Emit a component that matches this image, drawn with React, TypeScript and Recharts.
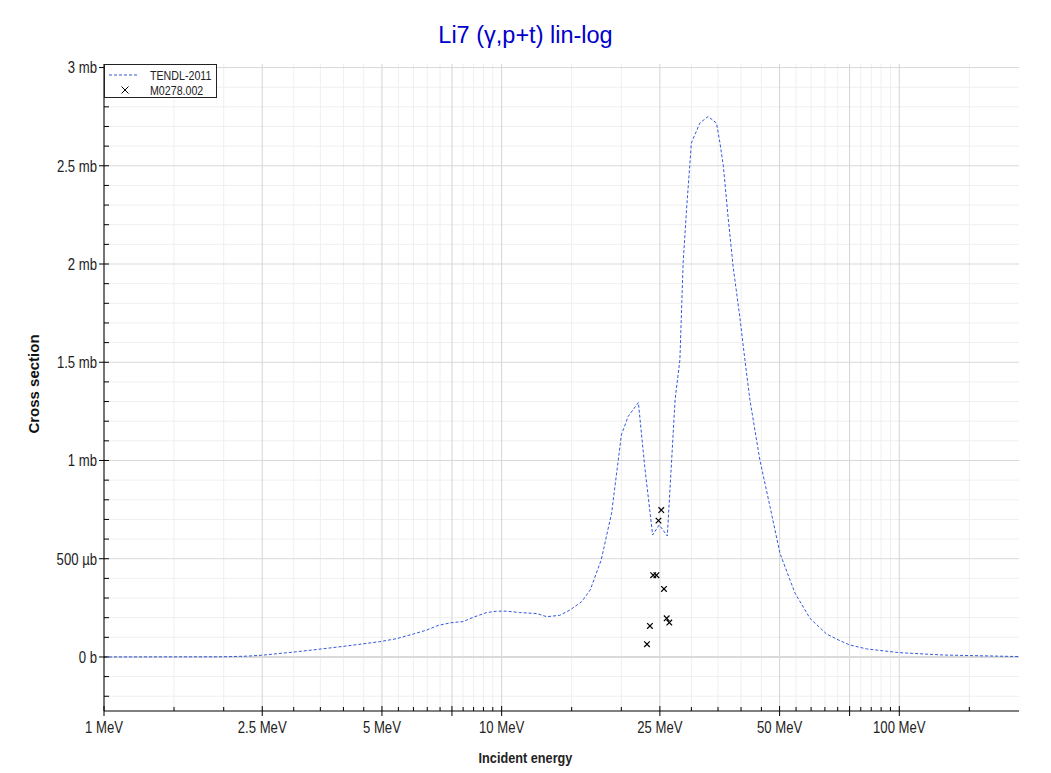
import { ComposedChart, Line, Scatter, XAxis, YAxis, ReferenceLine } from "recharts";

// TENDL-2011 evaluation, energy in MeV, cross section in mb
const tendlEnergy = [
  1, 2, 2.28, 2.5, 3, 3.36, 4.08, 4.94, 5.44, 6, 6.48, 6.93, 7.5, 8, 8.48, 9.17, 9.71,
  10.3, 11.1, 12.25, 12.98, 14, 14.86, 15.9, 16.7, 17.8, 18.9, 19.65, 20, 20.8, 22.07,
  22.9, 23.97, 24.9, 26.1, 27.3, 28.07, 28.6, 29.2, 29.75, 30, 31.5, 33.05, 34.7, 35.4,
  36.1, 37.1, 38.2, 39.7, 40.9, 42.1, 44.6, 47.3, 50.1, 53.1, 54.7, 59.6, 65.6, 70.9,
  75.1, 82.7, 100, 128.9, 200,
];
const tendlXs = [
  0, 0.001, 0.004, 0.009, 0.025, 0.036, 0.056, 0.078, 0.093, 0.117, 0.137, 0.161, 0.175,
  0.18, 0.202, 0.226, 0.233, 0.233, 0.226, 0.221, 0.205, 0.212, 0.239, 0.282, 0.341,
  0.494, 0.732, 1.003, 1.13, 1.224, 1.295, 0.969, 0.621, 0.672, 0.616, 1.309, 1.512,
  2.005, 2.29, 2.514, 2.616, 2.717, 2.751, 2.717, 2.616, 2.5, 2.24, 1.987, 1.733, 1.512,
  1.309, 1.003, 0.765, 0.528, 0.392, 0.324, 0.197, 0.117, 0.083, 0.061, 0.041, 0.022,
  0.01, 0.002,
];

// EXFOR M0278.002
const expEnergy = [23.2, 23.6, 24.05, 24.5, 24.8, 25.2, 25.6, 26.0, 26.4];
const expXs = [0.065, 0.158, 0.416, 0.416, 0.694, 0.748, 0.346, 0.197, 0.175];

const xLabelTicks = [1, 2.5, 5, 10, 25, 50, 100];
const xLabels = ["1 MeV", "2.5 MeV", "5 MeV", "10 MeV", "25 MeV", "50 MeV", "100 MeV"];
const xMajorTicks = [1, 2.5, 5, 7.5, 10, 25, 50, 75, 100];
const xMinorTicks = [
  1.5, 2, 3, 3.5, 4, 4.5, 5.5, 6, 6.5, 7, 8, 8.5, 9, 9.5, 15, 20, 30, 35, 40, 45, 55, 60,
  65, 70, 80, 85, 90, 95, 150,
];
const yMajorTicks = [0, 0.5, 1, 1.5, 2, 2.5, 3];
const yLabels = ["0 b", "500 µb", "1 mb", "1.5 mb", "2 mb", "2.5 mb", "3 mb"];
const yMinorTicks = [
  -0.2, -0.1, 0.1, 0.2, 0.3, 0.4, 0.6, 0.7, 0.8, 0.9, 1.1, 1.2, 1.3, 1.4, 1.6, 1.7, 1.8,
  1.9, 2.1, 2.2, 2.3, 2.4, 2.6, 2.7, 2.8, 2.9,
];

const tendl = tendlEnergy.map((e, i) => ({ e, s: tendlXs[i] }));
const exp = expEnergy.map((e, i) => ({ e, s: expXs[i] }));

const xAll = [...xMajorTicks, ...xMinorTicks].sort((a, b) => a - b);
const yAll = [...yMajorTicks, ...yMinorTicks].sort((a, b) => a - b);

const FONT = "'Liberation Sans', Arial, sans-serif";
const NARROW = 0.82; // the reference uses a condensed sans
const LINE_BLUE = "#3358dd";

function NText({ x, y, anchor = "start", size = 16, bold = false, children }: any) {
  return (
    <text
      transform={`translate(${x},${y}) scale(${NARROW},1)`}
      textAnchor={anchor} fontSize={size} fontWeight={bold ? "bold" : "normal"}
      fontFamily={FONT} fill="#222"
    >
      {children}
    </text>
  );
}

function xTick(side: "bottom" | "top") {
  return (p: any) => {
    const { x, y, payload } = p;
    const v = payload.value;
    const major = xMajorTicks.includes(v);
    const dir = side === "top" ? 1 : -1;
    const idx = xLabelTicks.indexOf(v);
    return (
      <g>
        <line x1={x} x2={x} y1={major ? y - 5 : y} y2={major ? y + 5 : y + 4 * dir} stroke="#000" />
        {side === "bottom" && idx >= 0 && (
          <NText x={x} y={y + 22} anchor="middle">{xLabels[idx]}</NText>
        )}
      </g>
    );
  };
}

function yTick(side: "left" | "right") {
  return (p: any) => {
    const { x, y, payload } = p;
    const v = payload.value;
    const idx = yMajorTicks.indexOf(v);
    const major = idx >= 0;
    const dir = side === "left" ? 1 : -1;
    return (
      <g>
        <line x1={major ? x - 5 : x} x2={major ? x + 5 : x + 5 * dir} y1={y} y2={y} stroke="#000" />
        {side === "left" && major && (
          <NText x={x - 7} y={y + 5.8} anchor="end">{yLabels[idx]}</NText>
        )}
      </g>
    );
  };
}

function Cross(p: any) {
  const { cx, cy } = p;
  if (cx == null || cy == null) return <g />;
  const r = 2.8;
  return (
    <path d={`M${cx - r},${cy - r}L${cx + r},${cy + r}M${cx - r},${cy + r}L${cx + r},${cy - r}`} stroke="#000" strokeWidth={1.2} />
  );
}

function LegendBox() {
  return (
    <div style={{ position: "absolute", left: 104, top: 64, width: 111, height: 32, border: "1px solid #222", background: "#fff" }}>
      <svg width={111} height={32} style={{ display: "block" }}>
        <line x1={4} x2={33} y1={10} y2={10} stroke={LINE_BLUE} strokeDasharray="3 2" />
        <NText x={45} y={14.5} size={13}>TENDL-2011</NText>
        <path d="M16.5,21.5L23.5,28.5M16.5,28.5L23.5,21.5" stroke="#000" strokeWidth={1} />
        <NText x={45} y={29.5} size={13}>M0278.002</NText>
      </svg>
    </div>
  );
}

export default function App() {
  return (
    <div style={{ position: "absolute", left: 0, top: 0, width: 1051, height: 773, background: "#fff" }}>
      <div
        style={{
          position: "absolute", left: 0, top: 22, width: 1051, textAlign: "center",
          fontFamily: FONT, fontSize: 23.5, color: "#0000cc", lineHeight: "26px",
        }}
      >
        Li7 (γ,p+t) lin-log
      </div>
      <svg style={{ position: "absolute", left: 0, top: 0 }} width={1051} height={773}>
        <NText x={525.5} y={763} anchor="middle" size={15.5} bold>Incident energy</NText>
        <text
          transform="translate(39,384) rotate(-90)" textAnchor="middle" fontSize={15}
          fontWeight="bold" fontFamily={FONT} fill="#111"
        >
          Cross section
        </text>
      </svg>
      <div style={{ position: "absolute", left: 0, top: 0 }}>
        <ComposedChart width={1051} height={773} margin={{ top: 64, right: 32, bottom: 0, left: 0 }}>
          {xMinorTicks.map((v) => (
            <ReferenceLine key={"vx" + v} x={v} stroke="#efefef" />
          ))}
          {yMinorTicks.map((v) => (
            <ReferenceLine key={"hy" + v} y={v} stroke="#efefef" />
          ))}
          {xMajorTicks.map((v) => (
            <ReferenceLine key={"VX" + v} x={v} stroke="#d4d4d4" />
          ))}
          {yMajorTicks.map((v) => (
            <ReferenceLine key={"HY" + v} y={v} stroke="#d9d9d9" strokeWidth={v === 0 ? 2 : 1} />
          ))}
          <XAxis
            dataKey="e" type="number" scale="log" domain={[1, 200]} allowDataOverflow
            ticks={xAll} interval={0} height={62} tickSize={0} tickMargin={0}
            tickLine={false} stroke="#000" tick={xTick("bottom")}
          />
          <XAxis
            xAxisId="top" orientation="top" dataKey="e" type="number" scale="log" domain={[1, 200]}
            allowDataOverflow ticks={xAll} interval={0} height={0} tickSize={0} tickMargin={0}
            tickLine={false} stroke="#000" tick={xTick("top")}
          />
          <YAxis
            type="number" domain={[-0.275, 3.018]} allowDataOverflow ticks={yAll} interval={0}
            width={104} tickSize={0} tickMargin={0} tickLine={false} stroke="#000" tick={yTick("left")}
          />
          <YAxis
            yAxisId="right" orientation="right" type="number" domain={[-0.275, 3.018]} allowDataOverflow
            ticks={yAll} interval={0} width={0} tickSize={0} tickMargin={0} tickLine={false}
            stroke="#000" tick={yTick("right")}
          />
          <Line
            data={tendl} dataKey="s" name="TENDL-2011" type="linear" stroke={LINE_BLUE}
            strokeWidth={1} strokeDasharray="3 2" dot={false} activeDot={false} isAnimationActive={false}
          />
          <Scatter data={exp} dataKey="s" name="M0278.002" shape={<Cross />} isAnimationActive={false} />
        </ComposedChart>
      </div>
      <LegendBox />
    </div>
  );
}
